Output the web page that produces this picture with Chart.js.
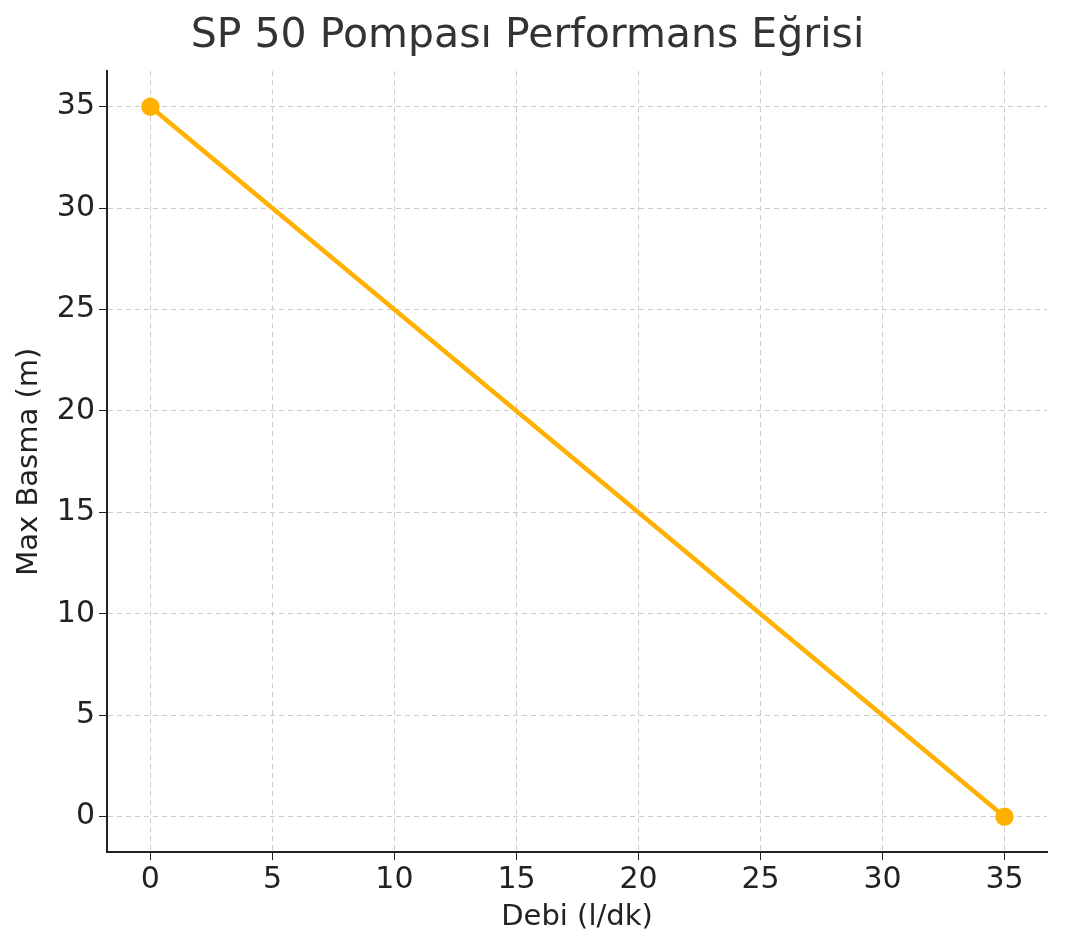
<!DOCTYPE html>
<html><head><meta charset="utf-8">
<script src="https://cdn.jsdelivr.net/npm/chart.js@4"></script>
<style>html,body{margin:0;padding:0;background:#fff}#w{width:1066px;height:949px}</style>
</head><body><div id="w"><canvas id="c"></canvas></div>
<script>
const flowValues = [0, 35];
const headValues = [35, 0];
const tickValues = [0, 5, 10, 15, 20, 25, 30, 35];
const titleText = 'SP 50 Pompası Performans Eğrisi';
const xTitle = 'Debi (l/dk)';
const yTitle = 'Max Basma (m)';
const F = 'DejaVu Sans';
const onlyTicks = axis => { axis.ticks = tickValues.map(v => ({value: v})); };
new Chart(document.getElementById('c'), {
  type: 'line',
  data: { datasets: [{
    data: flowValues.map((x, i) => ({x, y: headValues[i]})),
    borderColor: '#FFB000', backgroundColor: '#FFB000',
    borderWidth: 4.5, pointRadius: 7, pointHoverRadius: 7, tension: 0
  }]},
  options: {
    responsive: true, maintainAspectRatio: false, animation: false,
    layout: { padding: { left: 8, right: 19, top: 0, bottom: 10 } },
    plugins: { legend: { display: false }, tooltip: { enabled: false },
      title: { display: true, text: titleText, color: '#333', font: { family: F, size: 41, weight: 'normal' }, padding: { top: 12, bottom: 10 } } },
    scales: {
      x: { type: 'linear', min: -1.78, max: 36.74, afterBuildTicks: onlyTicks,
        border: { color: '#222', width: 2, dash: [5, 4] },
        grid: { color: '#cccccc', tickColor: '#222', tickLength: 8, lineWidth: 1 },
        ticks: { color: '#222', font: { family: F, size: 30 }, padding: 2 },
        title: { display: true, text: xTitle, color: '#222', font: { family: F, size: 29 }, padding: { top: 0 } } },
      y: { type: 'linear', min: -1.75, max: 36.75, afterBuildTicks: onlyTicks,
        border: { color: '#222', width: 2, dash: [5, 4] },
        grid: { color: '#cccccc', tickColor: '#222', tickLength: 8, lineWidth: 1 },
        ticks: { color: '#222', font: { family: F, size: 30 }, padding: 4 },
        title: { display: true, text: yTitle, color: '#222', font: { family: F, size: 29 }, padding: { bottom: 6 } } }
    }
  }
});
</script></body></html>
